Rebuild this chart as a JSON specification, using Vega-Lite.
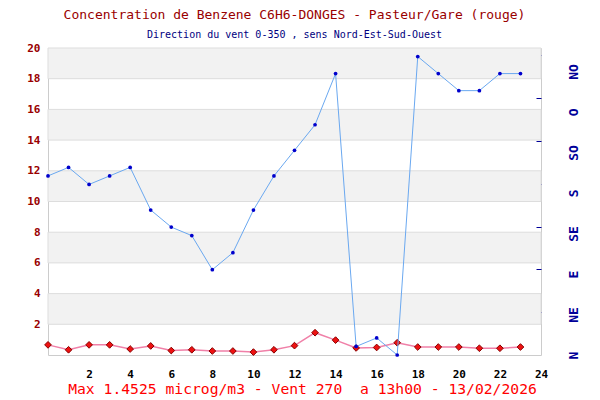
{
  "$schema": "https://vega.github.io/schema/vega-lite/v6.json",
  "width": 493,
  "height": 307,
  "autosize": {"type": "none"},
  "padding": {"left": 48, "top": 48, "right": 59, "bottom": 45},
  "background": "white",
  "config": {
    "view": {"stroke": "#cccccc"},
    "font": "DejaVu Sans Mono",
    "axis": {"labelOverlap": false, "labelBound": false, "labelFlush": false}
  },
  "title": {
    "text": "Concentration de Benzene C6H6-DONGES - Pasteur/Gare (rouge)",
    "subtitle": "Direction du vent 0-350 , sens Nord-Est-Sud-Ouest",
    "font": "DejaVu Sans Mono",
    "fontSize": 13,
    "fontWeight": "normal",
    "color": "#990000",
    "subtitleFont": "DejaVu Sans Mono",
    "subtitleFontSize": 10,
    "subtitleColor": "#000080",
    "anchor": "middle",
    "offset": 2,
    "subtitlePadding": 8
  },
  "datasets": {
    "bands": [
      {"lo": 2, "hi": 4}, {"lo": 6, "hi": 8}, {"lo": 10, "hi": 12}, {"lo": 14, "hi": 16}, {"lo": 18, "hi": 20}
    ],
    "benzene": [
      {"h": 0, "v": 0.66}, {"h": 1, "v": 0.34}, {"h": 2, "v": 0.66}, {"h": 3, "v": 0.66},
      {"h": 4, "v": 0.39}, {"h": 5, "v": 0.59}, {"h": 6, "v": 0.29}, {"h": 7, "v": 0.34},
      {"h": 8, "v": 0.26}, {"h": 9, "v": 0.26}, {"h": 10, "v": 0.19}, {"h": 11, "v": 0.34},
      {"h": 12, "v": 0.61}, {"h": 13, "v": 1.4525}, {"h": 14, "v": 0.97}, {"h": 15, "v": 0.46},
      {"h": 16, "v": 0.49}, {"h": 17, "v": 0.8}, {"h": 18, "v": 0.52}, {"h": 19, "v": 0.52},
      {"h": 20, "v": 0.52}, {"h": 21, "v": 0.44}, {"h": 22, "v": 0.44}, {"h": 23, "v": 0.52}
    ],
    "wind": [
      {"h": 0, "dir": 210}, {"h": 1, "dir": 220}, {"h": 2, "dir": 200}, {"h": 3, "dir": 210},
      {"h": 4, "dir": 220}, {"h": 5, "dir": 170}, {"h": 6, "dir": 150}, {"h": 7, "dir": 140},
      {"h": 8, "dir": 100}, {"h": 9, "dir": 120}, {"h": 10, "dir": 170}, {"h": 11, "dir": 210},
      {"h": 12, "dir": 240}, {"h": 13, "dir": 270}, {"h": 14, "dir": 330}, {"h": 15, "dir": 10},
      {"h": 16, "dir": 20}, {"h": 17, "dir": 0}, {"h": 18, "dir": 350}, {"h": 19, "dir": 330},
      {"h": 20, "dir": 310}, {"h": 21, "dir": 310}, {"h": 22, "dir": 330}, {"h": 23, "dir": 330}
    ]
  },
  "layer": [
    {
      "layer": [
        {
          "data": {"name": "bands"},
          "mark": {"type": "rect", "fill": "#f2f2f2", "stroke": "#dddddd", "strokeWidth": 1},
          "encoding": {
            "y": {"field": "lo", "type": "quantitative"},
            "y2": {"field": "hi"},
            "x": {"datum": 0, "type": "quantitative"},
            "x2": {"datum": 24}
          }
        },
        {
          "data": {"name": "benzene"},
          "mark": {"type": "line", "color": "#f080a8", "strokeWidth": 1.5},
          "encoding": {
            "x": {
              "field": "h", "type": "quantitative",
              "scale": {"domain": [0, 24], "nice": false},
              "axis": {
                "values": [2, 4, 6, 8, 10, 12, 14, 16, 18, 20, 22, 24], "tickCount": 30, "format": "d",
                "labelFontWeight": "bold", "labelColor": "black", "labelFontSize": 11,
                "ticks": false, "domain": false, "grid": false, "labelPadding": 13,
                "title": "Max 1.4525 microg/m3 - Vent 270\u00a0 a 13h00 - 13/02/2026",
                "titleColor": "#ff0000", "titleFontSize": 14.7, "titleFontWeight": "normal",
                "titleFont": "DejaVu Sans Mono", "titlePadding": 2, "titleX": 254
              }
            },
            "y": {
              "field": "v", "type": "quantitative",
              "scale": {"domain": [0, 20], "nice": false},
              "axis": {
                "values": [2, 4, 6, 8, 10, 12, 14, 16, 18, 20], "tickCount": 30, "format": "d",
                "labelFontWeight": "bold", "labelColor": "#990000", "labelFontSize": 11,
                "ticks": false, "domain": false, "grid": false, "labelPadding": 8, "title": null
              }
            }
          }
        },
        {
          "data": {"name": "benzene"},
          "mark": {"type": "point", "shape": "diamond", "filled": true, "fill": "#ee1111", "stroke": "#880000", "strokeWidth": 1, "size": 45, "opacity": 1},
          "encoding": {
            "x": {"field": "h", "type": "quantitative"},
            "y": {"field": "v", "type": "quantitative"}
          }
        }
      ]
    },
    {
      "data": {"name": "wind"},
      "layer": [
        {"mark": {"type": "line", "color": "#6aa8f0", "strokeWidth": 1}, "encoding": {}},
        {"mark": {"type": "point", "shape": "circle", "filled": true, "color": "#0000cc", "size": 14, "opacity": 1}, "encoding": {}}
      ],
      "encoding": {
        "x": {"field": "h", "type": "quantitative"},
        "y": {"field": "dir", "type": "quantitative", "scale": {"domain": [0, 360], "nice": false}, "axis": null}
      }
    },
    {
      "mark": {"type": "point", "opacity": 0},
      "encoding": {
        "y": {
          "datum": 0, "type": "quantitative",
          "scale": {"domain": [0, 322.8], "nice": false},
          "axis": {
            "orient": "right", "values": [45, 90, 135, 180, 225, 270, 315], "tickCount": 30,
            "labels": false, "domain": false, "grid": false,
            "tickColor": "#000099", "tickSize": -5, "tickWidth": 1, "title": null
          }
        }
      }
    },
    {
      "mark": {"type": "point", "opacity": 0},
      "encoding": {
        "y": {
          "datum": 0, "type": "quantitative",
          "scale": {"domain": [0, 341], "nice": false},
          "axis": {
            "orient": "right", "values": [0, 45, 90, 135, 180, 225, 270, 315], "tickCount": 30,
            "labelExpr": "['N','NE','E','SE','S','SO','O','NO'][round(datum.value/45)]",
            "labelAngle": -90, "labelAlign": "center", "labelBaseline": "middle",
            "labelPadding": 32, "ticks": false, "domain": false, "grid": false,
            "labelFontWeight": "bold", "labelColor": "#000099", "labelFontSize": 13,
            "labelFont": "DejaVu Sans Mono", "title": null
          }
        }
      }
    }
  ],
  "resolve": {"scale": {"y": "independent"}}
}
